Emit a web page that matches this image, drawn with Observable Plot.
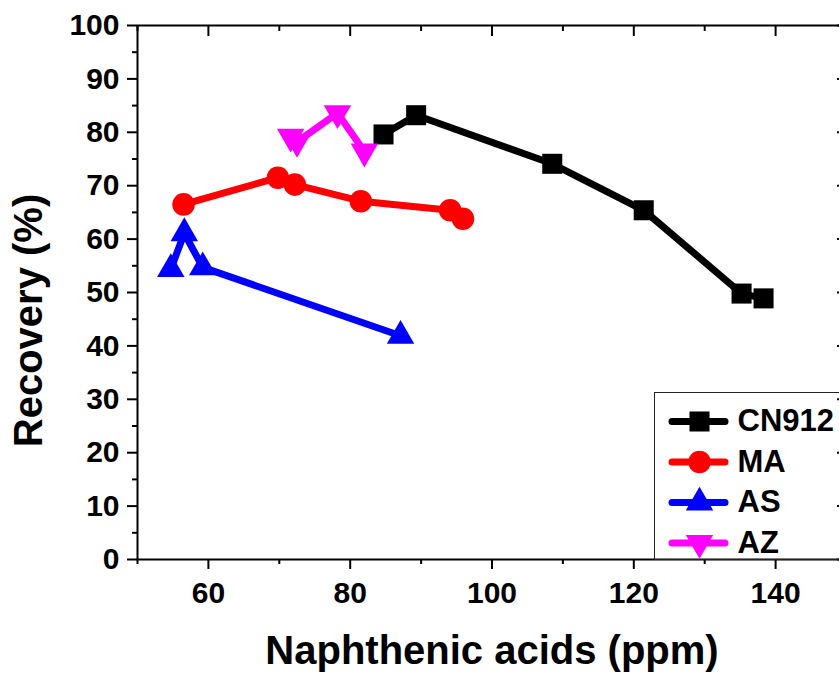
<!DOCTYPE html>
<html><head><meta charset="utf-8">
<script src="https://cdn.jsdelivr.net/npm/d3@7"></script>
<script src="https://cdn.jsdelivr.net/npm/@observablehq/plot@0.6"></script>
<style>html,body{margin:0;padding:0;overflow:hidden;background:#fff}</style>
</head><body><div id="chart"></div>
<script>
const seriesNames = ["CN912", "MA", "AS", "AZ"];
const seriesColors = ["#000000", "#ff0000", "#0000ff", "#ff00ff"];
const seriesSymbols = ["square", "circle", "triangle", "triangle"];
const seriesRotate = [0, 0, 0, 180];

const cn912X = [84.7, 89.3, 108.5, 121.4, 135.2, 138.3];
const cn912Y = [79.6, 83.2, 74.1, 65.4, 49.8, 48.9];
const maX = [56.5, 69.8, 72.2, 81.5, 94.1, 95.9];
const maY = [66.5, 71.5, 70.2, 67.1, 65.4, 63.8];
const asX = [54.7, 56.6, 59.2, 87.1];
const asY = [54.4, 61.1, 54.7, 41.9];
const azX = [71.6, 72.5, 78.2, 82.0];
const azY = [79.2, 78.2, 83.6, 76.4];

const xMajorTicks = [60, 80, 100, 120, 140];
const xMinorTicks = [50, 70, 90, 110, 130, 150];
const yMajorTicks = [0, 10, 20, 30, 40, 50, 60, 70, 80, 90, 100];
const yMinorTicks = [5, 15, 25, 35, 45, 55, 65, 75, 85, 95];
const xDomain = [50, 150];
const yDomain = [0, 100];
const xTitle = "Naphthenic acids (ppm)";
const yTitle = "Recovery (%)";

const seriesX = [cn912X, maX, asX, azX];
const seriesY = [cn912Y, maY, asY, azY];
const seriesR = [11.3, 11.3, 10.2, 10.2];

const FONT = "'Liberation Sans', Arial, Helvetica, sans-serif";

const marks = [];
// axis lines
marks.push(Plot.ruleX([xDomain[0], xDomain[1]], {stroke: "#000", strokeWidth: 2}));
marks.push(Plot.ruleY([yDomain[0], yDomain[1]], {stroke: "#000", strokeWidth: 2}));
// left axis
marks.push(Plot.axisY({anchor: "left", ticks: yMajorTicks, tickSize: 10, tickPadding: 8, fontSize: 30, fontWeight: "bold", strokeWidth: 2, label: null}));
marks.push(Plot.axisY({anchor: "left", ticks: yMinorTicks, tickSize: 5, text: null, strokeWidth: 2, label: null}));
// right axis (inward)
marks.push(Plot.axisY({anchor: "right", ticks: yMajorTicks, tickSize: 10, dx: -10, text: null, strokeWidth: 2, label: null}));
marks.push(Plot.axisY({anchor: "right", ticks: yMinorTicks, tickSize: 5, dx: -5, text: null, strokeWidth: 2, label: null}));
// bottom axis
marks.push(Plot.axisX({anchor: "bottom", ticks: xMajorTicks, tickSize: 10, tickPadding: 12, fontSize: 30, fontWeight: "bold", strokeWidth: 2, label: null}));
marks.push(Plot.axisX({anchor: "bottom", ticks: xMinorTicks, tickSize: 5, text: null, strokeWidth: 2, label: null}));
// top axis (inward)
marks.push(Plot.axisX({anchor: "top", ticks: xMajorTicks, tickSize: 10, dy: 10, text: null, strokeWidth: 2, label: null}));
marks.push(Plot.axisX({anchor: "top", ticks: xMinorTicks, tickSize: 5, dy: 5, text: null, strokeWidth: 2, label: null}));

// series
seriesNames.forEach((name, i) => {
  const rows = seriesX[i].map((x, j) => ({series: name, x, y: seriesY[i][j]}));
  marks.push(Plot.line(rows, {x: "x", y: "y", stroke: seriesColors[i], strokeWidth: 7, strokeLinejoin: "round"}));
  marks.push(Plot.dot(rows, {x: "x", y: "y", symbol: seriesSymbols[i], r: seriesR[i], fill: seriesColors[i], stroke: "none", rotate: seriesRotate[i]}));
});

// legend box
marks.push(Plot.frame({insetLeft: 517, insetTop: 367, insetRight: -20, insetBottom: 0, stroke: "#222", strokeWidth: 1}));
const legendRowY = [396, 436.5, 477, 517.5];
seriesNames.forEach((name, i) => {
  const ry = legendRowY[i];
  marks.push(Plot.frame({insetLeft: 531, insetRight: 118, insetTop: ry - 3.5, insetBottom: 534 - ry - 3.5, fill: seriesColors[i], stroke: null, rx: 3.5}));
  marks.push(Plot.dot([name], {frameAnchor: "top-left", dx: 562, dy: ry, symbol: seriesSymbols[i], r: seriesR[i], fill: seriesColors[i], stroke: "none", rotate: seriesRotate[i]}));
  marks.push(Plot.text([name], {frameAnchor: "top-left", dx: 600, dy: ry, text: d => d, textAnchor: "start", lineAnchor: "middle", fontSize: 31, fontWeight: "bold", fill: "#000"}));
});

// titles
marks.push(Plot.text([xTitle], {frameAnchor: "bottom", dy: 92, text: d => d, fontSize: 40, fontWeight: "bold", textAnchor: "middle", lineAnchor: "middle", fill: "#000"}));
marks.push(Plot.text([yTitle], {frameAnchor: "left", dx: -108, dy: 28, rotate: -90, text: d => d, fontSize: 40, fontWeight: "bold", textAnchor: "middle", lineAnchor: "middle", fill: "#000"}));

const chart = Plot.plot({
  width: 839,
  height: 677,
  marginLeft: 137,
  marginRight: -7,
  marginTop: 25,
  marginBottom: 118,
  x: {domain: xDomain},
  y: {domain: yDomain},
  style: {fontFamily: FONT, fontWeight: "bold", color: "#000", background: "#fff", overflow: "hidden"},
  marks
});
document.getElementById("chart").appendChild(chart);
</script>
</body></html>
